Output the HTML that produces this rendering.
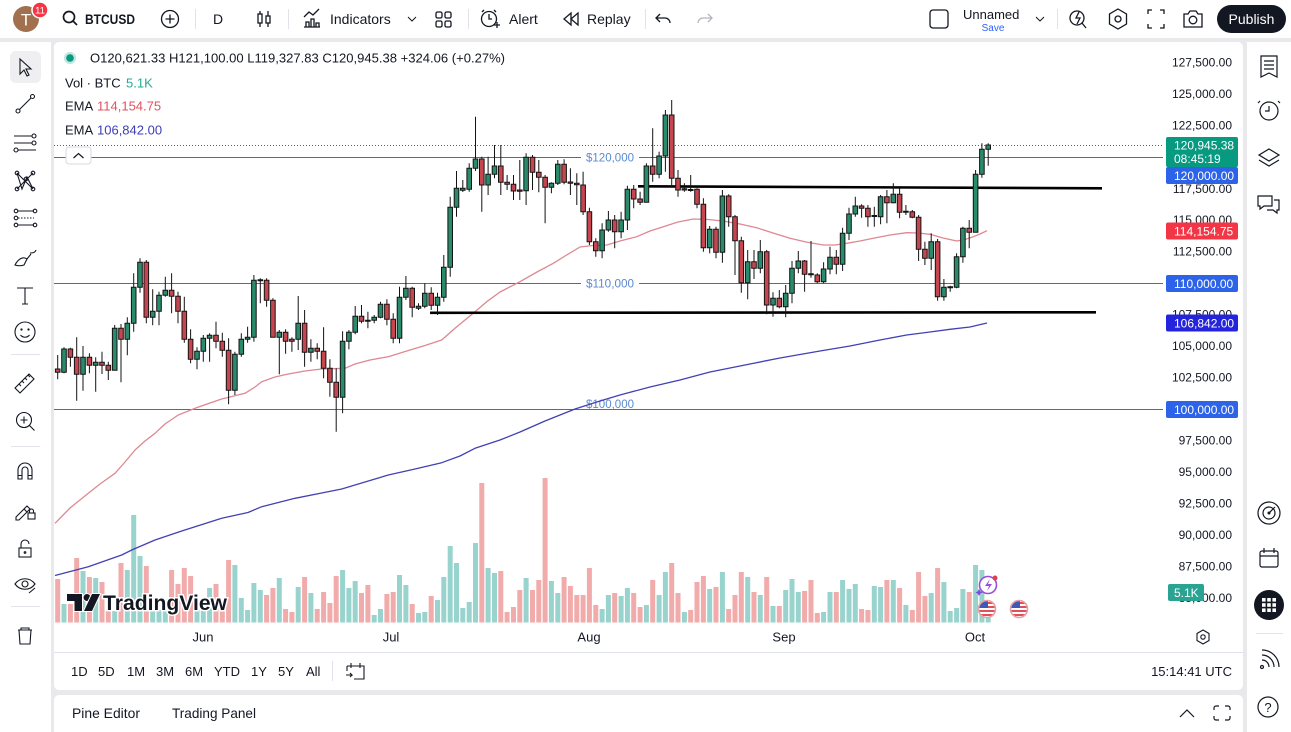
<!DOCTYPE html>
<html><head><meta charset="utf-8">
<style>
html,body{margin:0;padding:0;background:#e9e9eb;}
svg{display:block;font-family:"Liberation Sans",Arial,sans-serif;}
</style></head><body>
<svg width="1291" height="732" viewBox="0 0 1291 732" xmlns="http://www.w3.org/2000/svg">
<defs>
<clipPath id="plot"><rect x="54" y="42" width="1109" height="582"/></clipPath>
<clipPath id="f1"><circle cx="987" cy="609" r="8"/></clipPath>
<clipPath id="f2"><circle cx="1019" cy="609" r="8"/></clipPath>
</defs>
<rect width="1291" height="732" fill="#e9e9eb"/>
<rect x="0" y="0" width="1291" height="38" fill="#fff"/>
<rect x="0" y="42" width="51" height="690" fill="#fff"/>
<rect x="54" y="42" width="1189" height="648" rx="5" fill="#fff"/>
<rect x="1247" y="42" width="44" height="690" fill="#fff"/>
<rect x="54" y="695" width="1189" height="45" rx="5" fill="#fff"/>

<!-- ===== TOP BAR ===== -->
<g fill="none" stroke="#131722" stroke-width="1.3">
<circle cx="69" cy="17" r="5.5" stroke-width="1.7"/><path d="M73 21l4 4" stroke-width="1.7"/>
<circle cx="170" cy="19" r="8.5"/><path d="M170 14.5v9M165.5 19h9"/>
<path d="M260 11v16M268 11v16"/><rect x="258" y="14" width="4" height="9" fill="#fff"/><rect x="266" y="16" width="4" height="7" fill="#fff"/>
<path d="M304 27h16M306 27v-5h3v5M311 27v-8h3v8M316 27v-4h3v4M304 17l5-5 4 3 6-6"/>
<path d="M408 17l4 4 4-4" stroke-width="1"/>
<rect x="436" y="12" width="6" height="6" rx="1.5"/><rect x="445" y="12" width="6" height="6" rx="1.5"/><rect x="436" y="21" width="6" height="6" rx="1.5"/><rect x="445" y="21" width="6" height="6" rx="1.5"/>
<circle cx="489" cy="19" r="7.5"/><path d="M489 14v5h3M484 10l-2 2M494 10l2 2M494 25h6M497 22v6"/>
<path d="M571 13v12l-7-6zM578 13v12l-7-6z"/>
<path d="M660 14l-4 4 4 4M656 18h9a5 5 0 0 1 5 5"/>
<path d="M708 14l4 4-4 4M712 18h-9a5 5 0 0 0-5 5" stroke="#b2b5be"/>
<rect x="930" y="10" width="18" height="18" rx="3"/>
<path d="M1036 17l4 4 4-4" stroke-width="1"/>
<circle cx="1077" cy="18" r="7"/><path d="M1079 12l-3 6h4l-3 6M1082 23l4 5"/>
<path d="M1118 9l8.5 5v10l-8.5 5-8.5-5V14z"/><circle cx="1118" cy="19" r="3"/>
<path d="M1148 14v-4h4M1160 10h4v4M1164 24v4h-4M1152 28h-4v-4"/>
<path d="M1184 14h4l2-3h6l2 3h4v13h-18z"/><circle cx="1193" cy="20" r="3.8"/>
</g>
<g stroke="#e0e3eb" stroke-width="1"><path d="M195.5 9v20M288.5 9v20M468.5 9v20M645.5 9v20M1057.5 9v20"/></g>
<circle cx="26" cy="19" r="13" fill="#a0704f"/>
<text x="26" y="25.5" font-size="17" fill="#fff" text-anchor="middle">T</text>
<circle cx="40" cy="10" r="8" fill="#f23645" stroke="#fff" stroke-width="1.5"/>
<text x="40" y="13.5" font-size="9.5" fill="#fff" text-anchor="middle">11</text>
<g fill="#131722">
<text x="85" y="24" font-size="14" font-weight="bold" textLength="50" lengthAdjust="spacingAndGlyphs">BTCUSD</text>
<text x="218" y="24" font-size="14" text-anchor="middle">D</text>
<text x="330" y="24" font-size="14">Indicators</text>
<text x="509" y="24" font-size="14">Alert</text>
<text x="587" y="24" font-size="14">Replay</text>
<text x="963" y="19" font-size="13">Unnamed</text>
</g>
<text x="993" y="31" font-size="10" fill="#2962ff" text-anchor="middle">Save</text>
<rect x="1217" y="5" width="69" height="28" rx="14" fill="#131722"/>
<text x="1251.5" y="24" font-size="14" fill="#fff" text-anchor="middle">Publish</text>

<!-- ===== LEFT TOOLBAR ===== -->
<rect x="10" y="51" width="31" height="32" rx="6" fill="#efeff1"/>
<g fill="none" stroke="#131722" stroke-width="1.1">
<path d="M20 59v15l4-4 3 6 2-1-3-6h5z"/>
<path d="M19.5 109.5L31 98"/><circle cx="18" cy="111" r="2"/><circle cx="32.5" cy="96.5" r="2"/>
<path d="M14 136h18M14 143h18M18 150h18"/><circle cx="34" cy="136" r="2"/><circle cx="34" cy="143" r="2"/><circle cx="16" cy="150" r="2"/>
<path d="M17 173L22 189L27 177L33 189M17 173L33 189M17 189L33 173"/><circle cx="17" cy="173" r="1.8"/><circle cx="33" cy="173" r="1.8"/><circle cx="17" cy="189" r="1.8"/><circle cx="33" cy="189" r="1.8"/><circle cx="26" cy="179" r="1.8"/>
<path d="M18 211h16M18 225h16"/><path d="M18 218h16" stroke-dasharray="1.5 1.5"/><circle cx="16" cy="211" r="1.8"/><circle cx="16" cy="218" r="1.8"/><circle cx="16" cy="225" r="1.8"/><circle cx="35" cy="211" r="1.8"/><circle cx="35" cy="225" r="1.8"/>
<path d="M15 265c3-6 8-9 12-6l-3 6c-3 1-6 1-9 0zM27 259l4-5M30 253c2 0 5 0 6-3"/>
<path d="M17 288h16M25 288v16M22 304h6"/>
<circle cx="25" cy="332" r="10"/><circle cx="21.5" cy="329.5" r=".6"/><circle cx="28.5" cy="329.5" r=".6"/><path d="M20.5 335c2.5 3 6.5 3 9 0"/>
<path d="M15 388l14-14 5 5-14 14zM19 384l2 2M22 381l2 2M25 378l2 2M28 375l2 2"/>
<circle cx="24" cy="420" r="7.5"/><path d="M24 416.5v7M20.5 420h7M29.5 425.5l5 5"/>
<path d="M18 479v-9a7 7 0 0 1 14 0v9h-4v-9a3 3 0 0 0-6 0v9zM18 475.5h4M28 475.5h4"/>
<path d="M16 517l11-11 3 3-11 11h-3zM24 509l3 3"/><rect x="28" y="513" width="7" height="6"/><path d="M29.5 513v-2a2 2 0 0 1 4 0v2"/>
<rect x="19" y="548" width="12" height="9"/><path d="M21 548v-4a4 4 0 0 1 8 0"/><circle cx="25" cy="552.5" r=".8"/>
<path d="M15 584c5-7 15-7 20 0c-5 7-15 7-20 0z"/><circle cx="25" cy="584" r="3"/><path d="M29 593l6-5"/>
<path d="M18 630h14M21 630v-2h8v2M19 630l1 14h10l1-14"/>
</g>
<g stroke="#e0e3eb"><path d="M11 354.5h29M11 446.5h29M11 606.5h29"/></g>

<!-- ===== RIGHT TOOLBAR ===== -->
<g fill="none" stroke="#131722" stroke-width="1.2">
<path d="M1261 56h16v21l-8-4-8 4zM1264 61h10M1264 65h10M1264 69h10"/>
<circle cx="1269" cy="111" r="9"/><path d="M1269 106v5h-4M1260 101l-2 2M1278 101l2 2"/>
<path d="M1269 149l10 6-10 6-10-6zM1259 160l10 6 10-6"/>
<path d="M1258 196h14v10h-8l-4 3v-3h-2zM1274 200h5v10h-2v3l-4-3h-6"/>
<circle cx="1269" cy="513" r="11"/><circle cx="1269" cy="513" r="6"/><path d="M1269 513l6-6"/>
<rect x="1260" y="551" width="18" height="16" rx="2"/><path d="M1260 556h18M1264 548v5M1274 548v5"/>
<circle cx="1262" cy="667" r="1.5"/><path d="M1262 660a7 7 0 0 1 7 7M1262 655a12 12 0 0 1 12 12M1262 650a17 17 0 0 1 17 17"/>
<circle cx="1268" cy="707" r="10"/>
</g>
<circle cx="1262" cy="513" r="0"/>
<circle cx="1269" cy="513" r="1.5" fill="#131722"/>
<circle cx="1269" cy="605" r="15" fill="#131722"/>
<g fill="#fff">
<rect x="1262" y="598" width="3.6" height="3.6"/><rect x="1267.2" y="598" width="3.6" height="3.6"/><rect x="1272.4" y="598" width="3.6" height="3.6"/>
<rect x="1262" y="603.2" width="3.6" height="3.6"/><rect x="1267.2" y="603.2" width="3.6" height="3.6"/><rect x="1272.4" y="603.2" width="3.6" height="3.6"/>
<rect x="1262" y="608.4" width="3.6" height="3.6"/><rect x="1267.2" y="608.4" width="3.6" height="3.6"/><rect x="1272.4" y="608.4" width="3.6" height="3.6"/>
</g>
<path d="M1256 633.5h27" stroke="#e0e3eb"/>
<text x="1268" y="712" font-size="13" fill="#131722" text-anchor="middle">?</text>

<!-- ===== CHART ===== -->
<g clip-path="url(#plot)">
<!-- volume -->
<path fill="#99d3cd" d="M61.5 604h5V622.5h-5zM80.5 571h5V622.5h-5zM93.2 578h5V622.5h-5zM112.2 611h5V622.5h-5zM124.8 570h5V622.5h-5zM131.2 515h5V622.5h-5zM137.5 556h5V622.5h-5zM150.2 610h5V622.5h-5zM156.5 610h5V622.5h-5zM162.8 610h5V622.5h-5zM194.5 610h5V622.5h-5zM200.8 610h5V622.5h-5zM207.1 588h5V622.5h-5zM232.4 565h5V622.5h-5zM238.8 598h5V622.5h-5zM245.1 610h5V622.5h-5zM251.4 583h5V622.5h-5zM257.8 590h5V622.5h-5zM276.8 578h5V622.5h-5zM295.7 587h5V622.5h-5zM308.4 593h5V622.5h-5zM340.1 570h5V622.5h-5zM346.4 588h5V622.5h-5zM352.7 581h5V622.5h-5zM371.7 615h5V622.5h-5zM378 609h5V622.5h-5zM397 575h5V622.5h-5zM403.4 585h5V622.5h-5zM416 613h5V622.5h-5zM422.3 612h5V622.5h-5zM435 600h5V622.5h-5zM441.3 577h5V622.5h-5zM447.7 546h5V622.5h-5zM454 563h5V622.5h-5zM460.3 608h5V622.5h-5zM466.7 602h5V622.5h-5zM473 543h5V622.5h-5zM485.6 568h5V622.5h-5zM492 573h5V622.5h-5zM523.6 578h5V622.5h-5zM548.9 581h5V622.5h-5zM555.3 593h5V622.5h-5zM599.6 609h5V622.5h-5zM605.9 595h5V622.5h-5zM618.6 596h5V622.5h-5zM624.9 588h5V622.5h-5zM643.9 605h5V622.5h-5zM656.6 595h5V622.5h-5zM662.9 572h5V622.5h-5zM681.9 612h5V622.5h-5zM707.2 589h5V622.5h-5zM719.9 572h5V622.5h-5zM745.2 577h5V622.5h-5zM757.8 595h5V622.5h-5zM770.5 606h5V622.5h-5zM783.2 590h5V622.5h-5zM789.5 579h5V622.5h-5zM795.8 592h5V622.5h-5zM821.1 612h5V622.5h-5zM827.5 592h5V622.5h-5zM840.1 580h5V622.5h-5zM846.5 589h5V622.5h-5zM852.8 584h5V622.5h-5zM871.8 586h5V622.5h-5zM878.1 587h5V622.5h-5zM890.8 580h5V622.5h-5zM903.4 605h5V622.5h-5zM928.7 593h5V622.5h-5zM941.4 582h5V622.5h-5zM947.7 611h5V622.5h-5zM954.1 608h5V622.5h-5zM960.4 589h5V622.5h-5zM973.1 565h5V622.5h-5zM979.4 570h5V622.5h-5zM985.7 617h5V622.5h-5z"/>
<path fill="#f0abaa" d="M55.2 579h5V622.5h-5zM67.9 604h5V622.5h-5zM74.2 558h5V622.5h-5zM86.9 577h5V622.5h-5zM99.5 582h5V622.5h-5zM105.8 611h5V622.5h-5zM118.5 563h5V622.5h-5zM143.8 566h5V622.5h-5zM169.1 570h5V622.5h-5zM175.5 584h5V622.5h-5zM181.8 568h5V622.5h-5zM188.1 576h5V622.5h-5zM213.5 584h5V622.5h-5zM219.8 610h5V622.5h-5zM226.1 560h5V622.5h-5zM264.1 595h5V622.5h-5zM270.4 588h5V622.5h-5zM283.1 609h5V622.5h-5zM289.4 612h5V622.5h-5zM302.1 577h5V622.5h-5zM314.7 609h5V622.5h-5zM321.1 592h5V622.5h-5zM327.4 603h5V622.5h-5zM333.7 576h5V622.5h-5zM359 593h5V622.5h-5zM365.4 585h5V622.5h-5zM384.4 594h5V622.5h-5zM390.7 592h5V622.5h-5zM409.7 604h5V622.5h-5zM428.7 596h5V622.5h-5zM479.3 483h5V622.5h-5zM498.3 571h5V622.5h-5zM504.6 612h5V622.5h-5zM511 607h5V622.5h-5zM517.3 590h5V622.5h-5zM530 590h5V622.5h-5zM536.3 580h5V622.5h-5zM542.6 478h5V622.5h-5zM561.6 577h5V622.5h-5zM567.9 586h5V622.5h-5zM574.3 595h5V622.5h-5zM580.6 595h5V622.5h-5zM586.9 568h5V622.5h-5zM593.3 605h5V622.5h-5zM612.2 593h5V622.5h-5zM631.2 593h5V622.5h-5zM637.6 607h5V622.5h-5zM650.2 580h5V622.5h-5zM669.2 563h5V622.5h-5zM675.5 593h5V622.5h-5zM688.2 610h5V622.5h-5zM694.5 582h5V622.5h-5zM700.9 576h5V622.5h-5zM713.5 587h5V622.5h-5zM726.2 609h5V622.5h-5zM732.5 595h5V622.5h-5zM738.8 572h5V622.5h-5zM751.5 592h5V622.5h-5zM764.2 577h5V622.5h-5zM776.8 606h5V622.5h-5zM802.1 591h5V622.5h-5zM808.5 580h5V622.5h-5zM814.8 613h5V622.5h-5zM833.8 592h5V622.5h-5zM859.1 609h5V622.5h-5zM865.4 610h5V622.5h-5zM884.4 580h5V622.5h-5zM897.1 588h5V622.5h-5zM909.8 610h5V622.5h-5zM916.1 572h5V622.5h-5zM922.4 596h5V622.5h-5zM935.1 568h5V622.5h-5zM966.7 592h5V622.5h-5z"/>

<!-- horizontal levels -->
<g stroke="#44709e" stroke-width="1">
<path d="M54 157.5H581M639 157.5H1163"/>
<path d="M54 283.5H581M639 283.5H1163"/>
<path d="M54 409.5H1163"/>
</g>
<g fill="#5b8bd0" font-size="12">
<text x="586" y="161.5" textLength="48" lengthAdjust="spacingAndGlyphs">$120,000</text>
<text x="586" y="287.5" textLength="48" lengthAdjust="spacingAndGlyphs">$110,000</text>
<text x="586" y="408" textLength="48" lengthAdjust="spacingAndGlyphs">$100,000</text>
</g>
<path d="M54 145.5H1163" stroke="#2f7a72" stroke-width="1" stroke-dasharray="1 2"/>

<!-- EMAs -->
<polyline fill="none" stroke="#4141b4" stroke-width="1.3" stroke-linejoin="round" points="55,575.5 88.3,566.7 121.7,555 131.7,550 155,540 181.7,531 221.7,518.3 248,512.5 261.7,506.7 295,498.3 321.7,493 341.7,489 365,482 388.3,475 415,469 441.7,462.7 460,456 475,448.3 500,440 520,432 545,421 575,409 600,401 620,395 650,387 680,380 710,372 750,364 780,358 820,351 850,346 880,340 906.7,335 930,332 950,329.3 970,327 987,323"/>
<polyline fill="none" stroke="#de8891" stroke-width="1.3" stroke-linejoin="round" points="55,523.3 70,508 88.3,493.3 100,484 115,473.3 125,462 135,450 145,441 155,433.3 165,424 178.3,415 195,408.3 210,403 221.7,399 245,393.3 255,387 261.7,381.7 275,377 288.3,374 305,371 321.7,369 345,368.3 355,364 370,360 388.3,356.7 410,350 425,345.5 441.7,340 455,328.3 465,320 475,311.7 486.7,301.7 500,292 520,281.7 537,272 553.3,263.3 565,256 580,247 593,245.5 606.7,245 620,241 636.7,236.7 650,231 663.3,226.7 678,222 693.3,219 708,219.5 723,221 740,224 756.7,227.7 773,233 790,238.3 806,242 823.3,245 835,245 846.7,243.3 860,241 873.3,238.3 890,235 906.7,232.7 918,233 930,234.3 943,238 956.7,241 965,239.5 973.3,236.7 980,234 987,230.7"/>

<!-- trendlines -->
<path d="M638 186.3L1102 188.3M430 312.8L1096 312.3" stroke="#000" stroke-width="2.6" fill="none"/>

<!-- wicks -->
<path fill="none" stroke="#131313" stroke-width="1" d="M57.7 355V379.3M64 347.3V373.3M70.4 347.7V366.7M76.7 337.3V400.7M83 346V390.7M89.4 353.3V373.3M95.7 357.3V391.7M102 351.7V374M108.3 361.7V380M114.7 325V370.3M121 324V382.3M127.3 317.3V355.3M133.7 273.3V331.7M140 258.3V292.7M146.3 260V323.3M152.7 289.3V325.3M159 291.7V325.3M165.3 276.7V296.7M171.6 273.3V313.3M178 291.7V323.3M184.3 296.7V342.7M190.6 329.3V363.3M197 347.3V369.3M203.3 335V361.7M209.6 333.3V361.7M216 321.7V348.3M222.3 332.7V356.7M228.6 338.3V404.3M234.9 351.7V395M241.3 333.3V356.7M247.6 326.7V342.7M253.9 275V341.7M260.3 278.3V303.3M266.6 278.3V306.7M272.9 298.3V337.3M279.3 330V374.3M285.6 329.3V353.7M291.9 337.3V351.7M298.2 296V350M304.6 310V366.7M310.9 339.3V361.7M317.2 343.3V359.3M323.6 327.3V378.3M329.9 359.3V396.7M336.2 368.3V431.7M342.6 331.3V413.3M348.9 330V349.3M355.2 306V334.3M361.5 305V323.3M367.9 311.7V328.3M374.2 315V323.3M380.5 301.7V318.3M386.9 299.3V325.3M393.2 313.3V343.3M399.5 286.7V343.3M405.9 276V300M412.2 286.7V317.3M418.5 303.3V310M424.8 283.3V308.3M431.2 287.3V310M437.5 292.7V315M443.8 255V301.7M450.2 196.7V276.7M456.5 171V216.7M462.8 180V192M469.2 163.3V191.7M475.5 116.7V171M481.8 156.7V211.7M488.1 156.7V195M494.5 145V178.3M500.8 145V195M507.1 175V190M513.5 175V200M519.8 160V200M526.1 153.3V205M532.5 155V190M538.8 160V192.3M545.1 175V223.3M551.4 182.3V193.3M557.8 160V185M564.1 159.3V184.3M570.4 168.3V195M576.8 173.3V205M583.1 171.7V215M589.4 207.7V245M595.8 238.3V256.7M602.1 223.3V258.3M608.4 211V231.7M614.7 215V248.3M621.1 211.7V238.3M627.4 185.7V230M633.7 185V208.3M640.1 191.7V205M646.4 163.3V202.3M652.7 128.3V181.7M659.1 151.7V178.3M665.4 110V171.7M671.7 100V186.7M678 170V196.7M684.4 183.3V191.7M690.7 175V191.7M697 188.3V208.3M703.4 198.3V251.7M709.7 226V253.3M716 226.7V258.3M722.4 190V262.7M728.7 194.3V226.7M735 215V275M741.3 236.7V292.7M747.7 250V299.3M754 250V279M760.3 240V273.3M766.7 250V314.3M773 292.3V316.7M779.3 290V308.3M785.7 285V317.3M792 261V303.3M798.3 251V273.3M804.6 260V291.7M811 241V277.7M817.3 273.3V283.3M823.6 262.3V283.3M830 246.7V274.3M836.3 250V274.3M842.6 227.7V271M849 207.7V240M855.3 196.7V216.7M861.6 204.3V217.7M867.9 205V226.7M874.3 206.7V226.7M880.6 195V224.3M886.9 190V223.3M893.3 183.3V203.3M899.6 188.3V218.3M905.9 205V215M912.3 210V218.3M918.6 215V261M924.9 241.7V265M931.2 233.3V270M937.6 239V300.7M943.9 279V300.7M950.2 285.7V291.7M956.6 253.3V288.3M962.9 226.7V262.7M969.2 220V248.3M975.6 170V232.3M981.9 143.3V177.7M988.2 143.3V165.7"/>
<!-- green bodies -->
<path fill="#2a8a6c" stroke="#131313" stroke-width="1" d="M61.7 349h4.6v23.3h-4.6zM80.7 357.3h4.6v17h-4.6zM93.4 362.3h4.6v3h-4.6zM112.4 328.3h4.6v42h-4.6zM125 323.3h4.6v16h-4.6zM131.4 287.3h4.6v36h-4.6zM137.7 262.3h4.6v25h-4.6zM150.4 311.3h4.6v6h-4.6zM156.7 295.3h4.6v16h-4.6zM163 290.3h4.6v5h-4.6zM194.7 351.3h4.6v8h-4.6zM201 338.3h4.6v13h-4.6zM207.3 335.3h4.6v3h-4.6zM232.6 354.3h4.6v36h-4.6zM239 339.3h4.6v15h-4.6zM245.3 337.3h4.6v2h-4.6zM251.6 280.3h4.6v57h-4.6zM258 279.7h4.6v1h-4.6zM277 332.3h4.6v5h-4.6zM295.9 323.3h4.6v16h-4.6zM308.6 348.3h4.6v4h-4.6zM340.3 341.3h4.6v56h-4.6zM346.6 332.3h4.6v9h-4.6zM352.9 316.3h4.6v16h-4.6zM371.9 317.3h4.6v3h-4.6zM378.2 304.3h4.6v13h-4.6zM397.2 297.3h4.6v41h-4.6zM403.6 288.3h4.6v9h-4.6zM416.2 306.3h4.6v2h-4.6zM422.5 293.3h4.6v13h-4.6zM435.2 297.3h4.6v8h-4.6zM441.5 267.3h4.6v30h-4.6zM447.9 207.3h4.6v60h-4.6zM454.2 188.3h4.6v19h-4.6zM460.5 188.3h4.6v2h-4.6zM466.9 168.3h4.6v21h-4.6zM473.2 159h4.6v9.3h-4.6zM485.8 174.3h4.6v10.7h-4.6zM492.2 166h4.6v8.3h-4.6zM523.8 157.3h4.6v33.4h-4.6zM549.1 183.3h4.6v4h-4.6zM555.5 164.3h4.6v19h-4.6zM599.8 230h4.6v20.7h-4.6zM606.1 220h4.6v10h-4.6zM618.8 220h4.6v11.7h-4.6zM625.1 189.3h4.6v30.7h-4.6zM644.1 166h4.6v36.3h-4.6zM656.8 156h4.6v18.3h-4.6zM663.1 115h4.6v41h-4.6zM682.1 188.8h4.6v1.2h-4.6zM707.4 229.3h4.6v18.4h-4.6zM720.1 196h4.6v56.3h-4.6zM745.4 261.7h4.6v21h-4.6zM758 251.7h4.6v16.6h-4.6zM770.7 298.3h4.6v6.7h-4.6zM783.4 293.3h4.6v13.4h-4.6zM789.7 268.3h4.6v25h-4.6zM796 261h4.6v7.3h-4.6zM821.3 269h4.6v12.7h-4.6zM827.7 257.3h4.6v11.7h-4.6zM840.3 233.3h4.6v31h-4.6zM846.7 214h4.6v19.3h-4.6zM853 206h4.6v8h-4.6zM872 215.5h4.6v1h-4.6zM878.3 196.7h4.6v20h-4.6zM891 194.3h4.6v8.4h-4.6zM903.6 211.2h4.6v1h-4.6zM928.9 241.7h4.6v16.6h-4.6zM941.6 287.3h4.6v9.4h-4.6zM947.9 286.8h4.6v1h-4.6zM954.3 256.7h4.6v30.6h-4.6zM960.6 228.3h4.6v28.4h-4.6zM973.3 174.3h4.6v58h-4.6zM979.6 149.3h4.6v25h-4.6zM985.9 145h4.6v4.3h-4.6z"/>
<!-- red bodies -->
<path fill="#c6464f" stroke="#131313" stroke-width="1" d="M55.4 369h4.6v3.3h-4.6zM68.1 349h4.6v8.3h-4.6zM74.4 357.3h4.6v17h-4.6zM87.1 357.3h4.6v8h-4.6zM99.7 362.3h4.6v3h-4.6zM106 365.3h4.6v5h-4.6zM118.7 328.3h4.6v11h-4.6zM144 262.3h4.6v55h-4.6zM169.3 290.3h4.6v6h-4.6zM175.7 296.3h4.6v15h-4.6zM182 311.3h4.6v28h-4.6zM188.3 339.3h4.6v20h-4.6zM213.7 335.3h4.6v6h-4.6zM220 341.3h4.6v9h-4.6zM226.3 350.3h4.6v40h-4.6zM264.3 280.3h4.6v20h-4.6zM270.6 300.3h4.6v37h-4.6zM283.3 332.3h4.6v9h-4.6zM289.6 339.3h4.6v2h-4.6zM302.3 323.3h4.6v29h-4.6zM314.9 348.3h4.6v3h-4.6zM321.3 351.3h4.6v17h-4.6zM327.6 368.3h4.6v14h-4.6zM333.9 382.3h4.6v15h-4.6zM359.2 316.3h4.6v5h-4.6zM365.6 320.3h4.6v1h-4.6zM384.6 304.3h4.6v15h-4.6zM390.9 319.3h4.6v19h-4.6zM409.9 288.3h4.6v19h-4.6zM428.9 293.3h4.6v12h-4.6zM479.5 159h4.6v26h-4.6zM498.5 166h4.6v16.3h-4.6zM504.8 182.3h4.6v2h-4.6zM511.2 184.3h4.6v6.7h-4.6zM517.5 190h4.6v1.3h-4.6zM530.2 157.3h4.6v15h-4.6zM536.5 172.3h4.6v5h-4.6zM542.8 177.3h4.6v10h-4.6zM561.8 164.3h4.6v18h-4.6zM568.1 182h4.6v1.3h-4.6zM574.5 183.3h4.6v1.4h-4.6zM580.8 185h4.6v26.7h-4.6zM587.1 211.7h4.6v30h-4.6zM593.5 241.7h4.6v9h-4.6zM612.4 220h4.6v11.7h-4.6zM631.4 189.3h4.6v9.7h-4.6zM637.8 199h4.6v3.3h-4.6zM650.4 166h4.6v8.3h-4.6zM669.4 115h4.6v63.3h-4.6zM675.7 178.3h4.6v11.7h-4.6zM688.4 189.5h4.6v1h-4.6zM694.7 189.3h4.6v15h-4.6zM701.1 204.3h4.6v43.4h-4.6zM713.7 229.3h4.6v23h-4.6zM726.4 196h4.6v20.7h-4.6zM732.7 216.7h4.6v24h-4.6zM739 240.7h4.6v42h-4.6zM751.7 261.7h4.6v6.6h-4.6zM764.4 251.7h4.6v53.3h-4.6zM777 298.3h4.6v8.4h-4.6zM802.3 261h4.6v13.3h-4.6zM808.7 273.8h4.6v1h-4.6zM815 275h4.6v6.7h-4.6zM834 257.3h4.6v7h-4.6zM859.3 206h4.6v2.3h-4.6zM865.6 208.3h4.6v8.4h-4.6zM884.6 196.7h4.6v6h-4.6zM897.3 194.3h4.6v18h-4.6zM910 211.7h4.6v5.6h-4.6zM916.3 217.3h4.6v32h-4.6zM922.6 249.3h4.6v9h-4.6zM935.3 241.7h4.6v55h-4.6zM966.9 228.3h4.6v4h-4.6z"/>
</g>

<!-- legend -->
<circle cx="70" cy="58" r="6" fill="#089981" opacity="0.25"/>
<circle cx="70" cy="58" r="3.8" fill="#089981"/>
<g font-size="13" fill="#131722">
<text x="90" y="62.5" textLength="415" lengthAdjust="spacingAndGlyphs">O120,621.33 H121,100.00 L119,327.83 C120,945.38 +324.06 (+0.27%)</text>
<text x="65" y="87.5">Vol · BTC</text>
<text x="65" y="110.5">EMA</text>
<text x="65" y="134.5">EMA</text>
</g>
<text x="126" y="87.5" font-size="13" fill="#22ab94">5.1K</text>
<text x="97" y="110.5" font-size="13" fill="#e0525d">114,154.75</text>
<text x="97" y="134.5" font-size="13" fill="#3c3cba">106,842.00</text>
<rect x="66" y="147" width="25" height="17" rx="3" fill="#fff" stroke="#d6d8de"/>
<path d="M73.5 158l5-4.5 5 4.5" fill="none" stroke="#131722" stroke-width="1.2"/>

<!-- watermark -->
<g fill="#131722" stroke="#fff" stroke-width="2" paint-order="stroke">
<path d="M67 594h15v17h-7.5v-10H67z"/>
<circle cx="87" cy="597.5" r="3.5"/>
<path d="M92 594h8l-8 17h-8z"/>
<text x="103" y="610" font-size="21" font-weight="bold" textLength="124" lengthAdjust="spacingAndGlyphs" stroke-width="3">TradingView</text>
</g>

<!-- markers -->
<circle cx="988" cy="585" r="8.5" fill="#fff" stroke="#9b4ddb" stroke-width="1.6"/>
<path d="M990 579l-5 7h4l-2 5 5-7h-4z" fill="#9b4ddb"/>
<circle cx="995" cy="578" r="2.5" fill="#e0404a"/>
<path d="M979 589l1.2 2.3 2.3 1.2-2.3 1.2-1.2 2.3-1.2-2.3-2.3-1.2 2.3-1.2z" fill="#7b4ddb"/>
<g clip-path="url(#f1)"><rect x="979" y="601" width="16" height="16" fill="#fff"/><path d="M979 603h16M979 607h16M979 611h16M979 615h16" stroke="#e05058" stroke-width="2"/><rect x="979" y="601" width="9" height="7" fill="#3d5ab8"/></g>
<circle cx="987" cy="609" r="8.5" fill="none" stroke="#e8a0a4" stroke-width="1.6"/>
<g clip-path="url(#f2)"><rect x="1011" y="601" width="16" height="16" fill="#fff"/><path d="M1011 603h16M1011 607h16M1011 611h16M1011 615h16" stroke="#e05058" stroke-width="2"/><rect x="1011" y="601" width="9" height="7" fill="#3d5ab8"/></g>
<circle cx="1019" cy="609" r="8.5" fill="none" stroke="#e8a0a4" stroke-width="1.6"/>

<!-- price axis -->
<g font-size="12" fill="#131722" text-anchor="end">
<text x="1232" y="66.5">127,500.00</text>
<text x="1232" y="98">125,000.00</text>
<text x="1232" y="129.5">122,500.00</text>
<text x="1232" y="193">117,500.00</text>
<text x="1232" y="224">115,000.00</text>
<text x="1232" y="255.5">112,500.00</text>
<text x="1232" y="318.5">107,500.00</text>
<text x="1232" y="350">105,000.00</text>
<text x="1232" y="381.5">102,500.00</text>
<text x="1232" y="444.5">97,500.00</text>
<text x="1232" y="476">95,000.00</text>
<text x="1232" y="507.5">92,500.00</text>
<text x="1232" y="539">90,000.00</text>
<text x="1232" y="570.5">87,500.00</text>
<text x="1232" y="602">85,000.00</text>
</g>
<rect x="1166" y="137" width="72" height="30" rx="2" fill="#089981"/>
<rect x="1166" y="167" width="72" height="17" rx="2" fill="#2d63e8"/>
<rect x="1166" y="222.5" width="72" height="17" rx="2" fill="#f23645"/>
<rect x="1166" y="275" width="72" height="17" rx="2" fill="#2d63e8"/>
<rect x="1166" y="314.5" width="72" height="17" rx="2" fill="#2424dc"/>
<rect x="1166" y="401" width="72" height="17" rx="2" fill="#2d63e8"/>
<rect x="1168" y="584" width="36" height="17" rx="2" fill="#2aa392"/>
<g font-size="12" fill="#fff">
<text x="1174" y="149.5">120,945.38</text>
<text x="1174" y="163">08:45:19</text>
<text x="1174" y="180">120,000.00</text>
<text x="1174" y="235.5">114,154.75</text>
<text x="1174" y="288">110,000.00</text>
<text x="1174" y="327.5">106,842.00</text>
<text x="1174" y="414">100,000.00</text>
<text x="1174" y="597">5.1K</text>
</g>

<!-- time axis -->
<g font-size="13" fill="#131722" text-anchor="middle">
<text x="203" y="641.5">Jun</text>
<text x="391" y="641.5">Jul</text>
<text x="589" y="641.5">Aug</text>
<text x="784" y="641.5">Sep</text>
<text x="975" y="641.5">Oct</text>
</g>
<path d="M1203 630l6 3.5v7l-6 3.5-6-3.5v-7z" fill="none" stroke="#131722" stroke-width="1.1"/>
<circle cx="1203" cy="637" r="2.2" fill="none" stroke="#131722" stroke-width="1.1"/>
<path d="M54 652.5H1243" stroke="#e0e3eb"/>

<!-- range bar -->
<g font-size="13" fill="#131722">
<text x="71" y="676">1D</text>
<text x="98" y="676">5D</text>
<text x="127" y="676">1M</text>
<text x="156" y="676">3M</text>
<text x="185" y="676">6M</text>
<text x="214" y="676">YTD</text>
<text x="251" y="676">1Y</text>
<text x="278" y="676">5Y</text>
<text x="306" y="676">All</text>
<text x="1232" y="676" text-anchor="end">15:14:41 UTC</text>
</g>
<path d="M332.5 661v20" stroke="#e0e3eb"/>
<g fill="none" stroke="#131722" stroke-width="1.1">
<path d="M347 666h17v13h-10M347 666v5M351 663v5M360 663v5M346 675h6l-2-2M352 675l-2 2"/>
</g>

<!-- bottom panel -->
<g font-size="14" fill="#131722">
<text x="72" y="718" textLength="68" lengthAdjust="spacingAndGlyphs">Pine Editor</text>
<text x="172" y="718" textLength="84" lengthAdjust="spacingAndGlyphs">Trading Panel</text>
</g>
<g fill="none" stroke="#131722" stroke-width="1.2">
<path d="M1180 717l7-7 7 7"/>
<path d="M1214 710v-2a2 2 0 0 1 2-2h3M1225 706h3a2 2 0 0 1 2 2v2M1230 716v2a2 2 0 0 1-2 2h-3M1219 720h-3a2 2 0 0 1-2-2v-2"/>
</g>
</svg>
</body></html>
